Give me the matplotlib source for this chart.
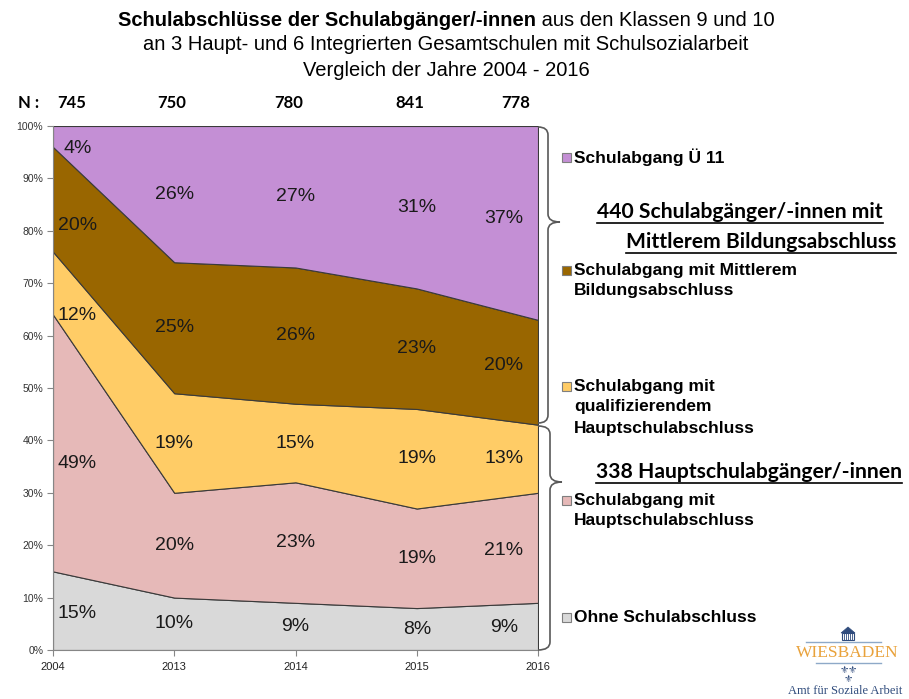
import numpy as np
import matplotlib
matplotlib.use('Agg')
import matplotlib.pyplot as plt
from matplotlib import font_manager
from matplotlib.path import Path
from matplotlib.patches import PathPatch, Rectangle, Polygon
from matplotlib.lines import Line2D
from matplotlib.transforms import Affine2D

# ---------------- data ----------------
years = ['2004', '2013', '2014', '2015', '2016']
n_values = [745, 750, 780, 841, 778]
ohne = [15, 10, 9, 8, 9]
haupt = [49, 20, 23, 19, 21]
quali = [12, 19, 15, 19, 13]
mittel = [20, 25, 26, 23, 20]
ue11 = [4, 26, 27, 31, 37]
series = [ohne, haupt, quali, mittel, ue11]
series_names = ['Ohne Schulabschluss',
                'Schulabgang mit\nHauptschulabschluss',
                'Schulabgang mit\nqualifizierendem\nHauptschulabschluss',
                'Schulabgang mit Mittlerem\nBildungsabschluss',
                'Schulabgang Ü 11']
colors = ['#D9D9D9', '#E6B9B8', '#FFCC66', '#996600', '#C48FD5']
group_mittel = ['440 Schulabgänger/-innen mit', 'Mittlerem Bildungsabschluss']
group_haupt = ['338 Hauptschulabgänger/-innen']
title_bold = 'Schulabschlüsse der Schulabgänger/-innen'
title_rest = ' aus den Klassen 9 und 10'
title_line2 = 'an 3 Haupt- und 6 Integrierten Gesamtschulen mit Schulsozialarbeit'
title_line3 = 'Vergleich der Jahre 2004 - 2016'

# ---------------- fonts ----------------
avail = {f.name for f in font_manager.fontManager.ttflist}
narrow = 'Liberation Sans Narrow' if 'Liberation Sans Narrow' in avail else 'Liberation Sans'
title_size = 15.5 if narrow == 'Liberation Sans Narrow' else 14.5
sans = 'Liberation Sans'
calib = 'Lato' if 'Lato' in avail else 'DejaVu Sans'
serif = 'Liberation Serif'

W, H = 909, 699
fig = plt.figure(figsize=(W / 100, H / 100), dpi=100)
px = Affine2D().scale(1 / W, -1 / H).translate(0, 1) + fig.transFigure


def fx(p):
    return p / W


def fy(p):
    return 1 - p / H


# ---------------- axes / areas ----------------
ax = fig.add_axes([fx(53), fy(650), (538 - 53) / W, (650 - 126) / H])
x = np.arange(len(years))
ax.stackplot(x, *series, colors=colors, edgecolor='#3a3a3a', linewidth=0.8)
ax.set_xlim(0, len(years) - 1)
ax.set_ylim(0, 100)
ax.set_yticks(np.arange(0, 101, 10))
ax.set_yticklabels([f'{v}%' for v in range(0, 101, 10)])
ax.set_xticks(x)
ax.set_xticklabels(years)
for s in ['top', 'right']:
    ax.spines[s].set_visible(False)
for s in ['left', 'bottom']:
    ax.spines[s].set_color('#868686')
ax.tick_params(axis='both', colors='#868686', length=4, direction='out')
ax.tick_params(axis='y', labelsize=7.5, labelcolor='#333333', pad=3)
ax.tick_params(axis='x', labelsize=8, labelcolor='#222222', pad=5)
for lab in ax.get_xticklabels() + ax.get_yticklabels():
    lab.set_fontfamily(sans)

# value labels in the middle of each band
label_pos = [0.2, 1, 2, 3, 3.72]
cum = np.vstack([np.zeros(len(years))] + [np.cumsum(series, axis=0)[i] for i in range(len(series))])
for i, s in enumerate(series):
    for j, v in enumerate(s):
        p = label_pos[j]
        lo = np.interp(p, x, cum[i])
        hi = np.interp(p, x, cum[i + 1])
        ax.text(p, (lo + hi) / 2, f'{v}%', ha='center', va='center',
                fontsize=14, family=sans, color='#1a1a1a')

# ---------------- title ----------------
tb = fig.text(0, 0, title_bold, fontsize=title_size, family=narrow, fontweight='bold', transform=px,
              ha='left', va='center')
tr = fig.text(0, 0, title_rest, fontsize=title_size, family=narrow, transform=px, ha='left', va='center')
fig.text(446, 45, title_line2, fontsize=title_size, family=narrow, transform=px, ha='center', va='center')
fig.text(446, 71, title_line3, fontsize=title_size, family=narrow, transform=px, ha='center', va='center')

# N row
fig.text(18, 103, 'N :', fontsize=12, family=calib, fontweight='bold', transform=px,
         ha='left', va='center')
for xp, n in zip([72, 172, 289, 410, 516], n_values):
    fig.text(xp, 103, str(n), fontsize=12, family=calib, fontweight='bold', transform=px,
             ha='center', va='center')

# ---------------- braces ----------------
def brace(x_start, x0, x_tip, y_top, y_bot, y_tip, r=8):
    verts = [(x_start, y_top), (x0, y_top), (x0, y_top + r),
             (x0, y_tip - r), (x0, y_tip), (x_tip, y_tip),
             (x0, y_tip), (x0, y_tip + r),
             (x0, y_bot - r), (x0, y_bot), (x_start, y_bot)]
    codes = [Path.MOVETO, Path.CURVE3, Path.CURVE3,
             Path.LINETO, Path.CURVE3, Path.CURVE3,
             Path.CURVE3, Path.CURVE3,
             Path.LINETO, Path.CURVE3, Path.CURVE3]
    fig.add_artist(PathPatch(Path(verts, codes), transform=px, fill=False,
                             edgecolor='#595959', lw=1.2))


brace(538, 548, 560, 127, 423, 222)
brace(538, 550, 562, 426, 650, 482)

# ---------------- legend ----------------
legend_y = [617, 500, 386, 270, 157]
for name, col, yy in zip(series_names, colors, legend_y):
    fig.add_artist(Rectangle((562, yy - 4.5), 9, 9, transform=px, facecolor=col,
                             edgecolor='#7f7f7f', lw=0.8))
    for k, line in enumerate(name.split('\n')):
        fig.text(574, yy + 21 * k, line, transform=px, fontsize=12.5, family=sans,
                 fontweight='bold', ha='left', va='center')

# group headings (underlined)
headings = []
for txt, xl, yc in [(group_mittel[0], 597, 212), (group_mittel[1], 626, 242),
                    (group_haupt[0], 596, 472)]:
    headings.append(fig.text(xl, yc, txt, transform=px, fontsize=15.2, family=calib,
                             fontweight='bold', ha='left', va='center'))

# ---------------- logo ----------------
navy = '#2F4B7C'
fig.add_artist(Polygon([(841, 633), (848, 627), (855, 633)], closed=True, transform=px,
                       facecolor=navy, edgecolor=navy, lw=0.5))
fig.add_artist(Rectangle((842, 633), 12, 7, transform=px, facecolor='white',
                         edgecolor=navy, lw=0.8))
for cx in [844, 846, 848, 850, 852]:
    fig.add_artist(Line2D([cx, cx], [633, 640], transform=px, color=navy, lw=0.6))
fig.add_artist(Line2D([806, 881], [642, 642], transform=px, color='#8EA9C8', lw=1))
fig.add_artist(Line2D([816, 881], [663, 663], transform=px, color='#8EA9C8', lw=1))
fig.text(847, 653, 'WIESBADEN', transform=px, fontsize=12.5, family=serif,
         color='#E9A23B', ha='center', va='center')
for lx, ly in [(844, 670), (852, 670), (848, 679)]:
    fig.text(lx, ly, '⚜', transform=px, fontsize=7.5, family='DejaVu Sans', color=navy,
             ha='center', va='center')
fig.text(788, 697, 'Amt für Soziale Arbeit', transform=px, fontsize=9, family=serif,
         color=navy, ha='left', va='bottom')

# ---------------- layout requiring measurement ----------------
fig.canvas.draw()
r = fig.canvas.get_renderer()
wb = tb.get_window_extent(r).width
wr = tr.get_window_extent(r).width
start = 446 - (wb + wr) / 2
tb.set_position((start, 20))
tr.set_position((start + wb, 20))

for h in headings:
    bb = h.get_window_extent(r)
    yline = H - bb.y0 + 1
    fig.add_artist(Line2D([bb.x0, bb.x1], [yline, yline], transform=px, color='black', lw=1.2))

fig.savefig('out.png', dpi=100)
